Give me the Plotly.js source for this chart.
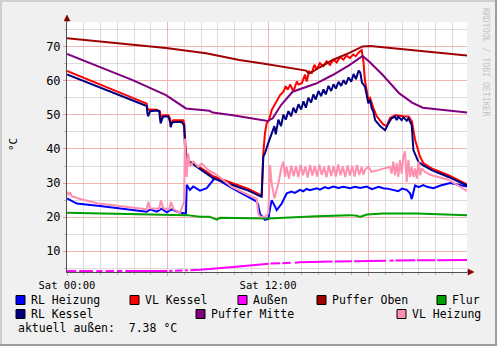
<!DOCTYPE html>
<html><head><meta charset="utf-8">
<script src="https://cdn.plot.ly/plotly-3.0.1.min.js"></script>
<style>html,body{margin:0;padding:0;background:#F0F0F0;}#chart{width:497px;height:346px;}</style>
</head><body><div id="chart"></div>
<script>
// ---- data (time in hours since Sat 00:00, values in °C) ----
const seriesNames  = ["RL Heizung","VL Kessel","Außen","Puffer Oben","Flur","RL Kessel","Puffer Mitte","VL Heizung"];
const seriesColors = ["#0000FF","#FF0000","#FF00FF","#A00000","#00A000","#000080","#800080","#FF8FAF"];
const xTickVals = [0, 6, 12, 18];
const xTickText = ["Sat 00:00", "", "Sat 12:00", ""];
const yTickVals = [10, 20, 30, 40, 50, 60, 70];
const currentOutside = 7.38;

const rlHeizung = [[0,25.5],[0.3,24.6],[0.58,24.0],[1.97,23.3],[4.76,21.6],[4.96,22.3],[5.36,21.6],[5.65,22.5],[5.95,21.4],[6.25,22.3],[6.75,21.3],[7.10,21.1],[7.15,29.5],[7.34,28.0],[7.54,29.0],[7.94,27.8],[8.34,28.5],[8.73,30.9],[8.84,31.5],[9.83,28.6],[10.83,26.0],[11.33,24.6],[11.42,23.5],[11.52,21.0],[11.82,19.2],[12.02,19.5],[12.12,22.5],[12.22,25.0],[12.42,23.1],[12.52,22.1],[12.82,24.0],[13.12,27.0],[13.4,27.5],[13.6,27.1],[13.91,28.0],[14.1,27.6],[14.3,28.3],[14.5,27.9],[14.91,28.5],[15.1,28.1],[15.4,28.8],[15.6,28.4],[15.9,29.0],[16.2,28.6],[16.5,28.9],[16.9,28.5],[17.2,28.9],[17.5,28.6],[17.89,29.0],[18.2,28.2],[18.6,28.9],[18.88,28.5],[19.2,28.3],[19.48,28.0],[19.78,27.6],[20.0,28.4],[20.28,28.0],[20.48,27.0],[20.58,25.3],[20.78,29.3],[21.0,28.8],[21.27,29.4],[21.5,28.9],[21.87,28.5],[22.3,29.3],[22.87,30.0],[23.3,29.6],[23.88,29.0]];

const vlKessel = [[0,62.9],[4.76,53.3],[4.82,51.5],[4.96,51.6],[5.36,51.5],[5.55,51.0],[5.61,49.1],[5.75,49.9],[6.05,49.9],[6.15,49.0],[6.21,47.5],[6.35,48.4],[6.94,48.4],[7.0,47.6],[7.04,44.0],[7.1,38.5],[7.24,36.6],[7.94,34.6],[8.73,32.0],[9.83,30.0],[10.83,28.3],[11.52,26.6],[11.62,26.5],[11.72,38.8],[11.82,44.7],[11.92,47.5],[12.06,48.5],[12.22,51.4],[12.42,53.0],[12.72,55.8],[12.92,56.8],[13.06,58.4],[13.18,57.4],[13.32,58.9],[13.52,56.9],[13.72,59.8],[13.82,58.9],[14.02,59.3],[14.21,61.8],[14.31,59.8],[14.45,62.8],[14.61,62.3],[14.77,64.7],[14.91,63.3],[15.10,65.2],[15.30,64.3],[15.50,65.7],[15.70,64.7],[15.90,66.2],[16.10,65.4],[16.30,67.0],[16.50,66.2],[16.69,67.4],[16.89,66.7],[17.09,67.7],[17.23,67.2],[17.43,68.4],[17.59,69.0],[17.69,66.0],[17.79,60.0],[17.99,54.5],[18.09,55.0],[18.29,52.0],[18.49,49.6],[18.88,47.2],[19.09,46.7],[19.28,49.1],[19.6,49.9],[20.08,49.6],[20.4,49.5],[20.59,48.1],[20.78,42.7],[21.07,37.8],[21.27,35.9],[21.77,34.3],[22.77,32.3],[23.88,29.6]];

const aussen = [[0,4.2],[0.55,4.2],[0.63,null],[0.72,4.2],[1.55,4.2],[1.64,null],[1.75,4.2],[2.12,4.2],[2.21,null],[2.3,4.2],[2.8,4.2],[2.87,null],[2.97,4.2],[3.3,4.2],[3.37,null],[3.48,4.2],[5.98,4.2],[6.03,null],[6.1,4.25],[6.3,4.25],[6.36,null],[6.45,4.3],[6.9,4.35],[6.96,null],[7.05,4.4],[7.22,4.4],[7.28,null],[7.36,4.45],[7.94,4.6],[9.93,5.4],[10.93,5.9],[11.92,6.3],[12.04,6.35],[12.09,null],[12.15,6.4],[12.72,6.5],[12.78,null],[12.85,6.5],[13.36,6.6],[13.46,null],[13.6,6.65],[13.91,6.8],[15.85,7.0],[15.91,null],[15.98,7.0],[16.9,7.1],[17.02,7.1],[17.07,null],[17.14,7.1],[19.05,7.25],[19.1,null],[19.25,7.25],[19.5,7.3],[19.55,null],[19.6,7.3],[19.88,7.3],[20.8,7.35],[20.84,null],[20.9,7.35],[21.98,7.4],[22.03,null],[22.1,7.4],[23.88,7.45]];

const pufferOben = [[0,72.5],[5.91,69.6],[8.3,68.1],[10.29,66.1],[11.88,64.9],[14.27,63.0],[14.43,62.2],[14.6,62.5],[15.06,63.9],[15.86,66.1],[16.86,68.2],[17.65,70.1],[18.1,70.2],[23.88,67.4]];

const flur = [[0,21.3],[7.15,20.6],[7.94,20.1],[8.5,20.1],[8.84,19.5],[8.94,19.3],[9.13,19.8],[10.93,19.6],[12.02,19.6],[14.91,20.3],[16.9,20.6],[17.3,20.4],[17.49,20.1],[17.9,20.8],[18.88,21.1],[20.88,21.1],[23.88,20.6]];

const rlKessel = [[0,61.9],[4.76,52.6],[4.8,50.5],[4.85,49.6],[4.96,51.1],[5.36,51.3],[5.5,51.1],[5.59,47.5],[5.68,48.8],[5.75,49.5],[6.05,49.5],[6.15,48.0],[6.19,46.4],[6.25,47.5],[6.35,47.9],[6.85,47.9],[6.94,47.2],[6.99,47.0],[7.04,41.0],[7.14,38.0],[7.24,36.5],[7.84,34.5],[8.73,31.4],[9.83,29.5],[10.83,27.8],[11.52,26.2],[11.62,26.0],[11.72,37.8],[11.82,38.8],[12.02,41.8],[12.22,44.7],[12.38,46.7],[12.46,44.3],[12.62,48.6],[12.78,46.7],[12.92,50.1],[13.06,48.6],[13.22,51.1],[13.38,49.6],[13.52,52.1],[13.66,50.6],[13.82,53.1],[13.98,51.6],[14.12,54.0],[14.26,52.1],[14.41,55.0],[14.57,53.6],[14.71,56.0],[14.85,54.5],[15.01,57.0],[15.17,55.5],[15.31,57.5],[15.45,56.0],[15.61,58.5],[15.77,57.0],[15.91,59.0],[16.05,57.7],[16.21,59.7],[16.37,58.5],[16.51,60.2],[16.65,59.0],[16.81,61.0],[16.97,59.7],[17.11,62.0],[17.25,60.5],[17.41,63.0],[17.51,62.4],[17.61,59.5],[17.79,58.3],[17.99,53.4],[18.09,54.4],[18.19,52.0],[18.29,51.0],[18.39,48.5],[18.69,46.7],[18.99,45.5],[19.19,47.5],[19.38,49.0],[19.58,49.5],[19.68,48.5],[19.78,49.5],[19.98,48.5],[20.08,49.3],[20.28,48.3],[20.38,49.0],[20.58,47.0],[20.68,39.7],[20.78,38.7],[20.98,36.2],[21.27,35.2],[21.77,33.8],[22.77,31.8],[23.76,29.6],[23.88,29.3]];

const pufferMitte = [[0,67.9],[1.93,64.1],[3.92,60.2],[5.91,55.8],[6.6,53.5],[7.1,51.9],[8.5,51.2],[8.7,50.7],[9.89,49.9],[11.98,48.2],[12.28,49.0],[12.78,52.9],[13.47,56.8],[14.87,59.2],[15.86,61.7],[16.86,64.6],[17.65,67.3],[18.05,65.6],[18.85,61.7],[19.84,56.3],[20.6,53.6],[21.24,52.1],[23.88,50.7]];

const vlHeizung = [[0,27.5],[0.1,26.5],[0.18,27.3],[0.3,26.0],[0.45,26.0],[0.67,25.5],[1.87,24.0],[3.0,23.3],[4.76,22.3],[4.85,24.5],[4.96,22.6],[5.5,22.5],[5.61,25.0],[5.75,22.6],[6.1,22.3],[6.21,24.5],[6.35,22.4],[6.75,21.3],[6.99,24.5],[7.04,43.1],[7.14,31.8],[7.24,38.7],[7.34,34.8],[7.54,36.3],[7.84,34.8],[8.04,35.8],[8.44,33.8],[8.84,32.8],[9.83,28.9],[10.83,26.5],[11.32,25.5],[11.42,21.1],[11.52,20.2],[11.82,20.1],[12.02,21.1],[12.12,35.3],[12.22,29.9],[12.38,25.5],[12.62,29.9],[12.81,34.8],[12.92,36.3],[13.01,31.8],[13.11,34.8],[13.25,31.3],[13.39,35.2],[13.53,32.0],[13.67,35.0],[13.81,31.8],[13.95,35.4],[14.09,32.3],[14.23,34.9],[14.37,31.6],[14.51,35.3],[14.65,32.2],[14.79,35.0],[14.93,31.9],[15.07,35.4],[15.21,32.4],[15.35,34.8],[15.49,31.7],[15.63,35.2],[15.77,32.1],[15.91,35.0],[16.05,31.9],[16.19,35.5],[16.33,32.3],[16.47,34.9],[16.61,31.8],[16.75,35.2],[16.89,32.2],[17.03,35.0],[17.17,31.9],[17.31,35.3],[17.45,32.4],[17.59,34.8],[17.69,32.5],[17.79,33.8],[17.99,34.8],[18.19,33.3],[18.59,33.8],[18.99,34.3],[19.28,34.8],[19.38,32.8],[19.48,36.3],[19.58,32.3],[19.68,35.8],[19.78,31.8],[19.88,36.8],[19.98,32.8],[20.08,37.8],[20.18,39.3],[20.28,30.3],[20.38,36.8],[20.48,31.8],[20.58,34.8],[20.68,31.8],[20.78,34.3],[20.88,31.3],[20.98,36.3],[21.08,32.3],[21.18,34.3],[21.37,33.3],[21.57,32.8],[21.77,32.3],[22.77,31.0],[23.76,28.1],[23.88,27.7]];

const seriesData = [rlHeizung, vlKessel, aussen, pufferOben, flur, rlKessel, pufferMitte, vlHeizung];

// ---- geometry helpers (layout only) ----
const L = 67, R = 467, T = 22, B = 272;
const px = x => (x - L) / (R - L);
const py = y => (B - y) / (B - T);
const MONO = "DejaVu Sans Mono";

const traces = seriesData.map((d, i) => ({
  type: "scatter", mode: "lines", name: seriesNames[i],
  x: d.map(p => p[0]), y: d.map(p => p[1]),
  line: {color: seriesColors[i], width: 2},
  connectgaps: false, hoverinfo: "skip"
}));

// legend layout: [series index, square x, row y]
const legendPos = [[0,16,300],[1,130,300],[2,238,300],[3,317,300],[4,437,300],[5,16,314],[6,196,314],[7,397,314]];
const shapes = [];
const annotations = [];
legendPos.forEach(([i, x, y]) => {
  shapes.push({type:"rect", xref:"paper", yref:"paper", x0:px(x), x1:px(x+9), y0:py(y+4.5), y1:py(y-4.5),
    fillcolor: seriesColors[i], line:{color:"#000", width:1}});
  annotations.push({xref:"paper", yref:"paper", x:px(x+13), y:py(y), xanchor:"left", yanchor:"middle",
    text: seriesNames[i], showarrow:false, font:{family:MONO, size:11.5, color:"#000"}});
});
annotations.push({xref:"paper", yref:"paper", x:px(16), y:py(328), xanchor:"left", yanchor:"middle",
  text: "aktuell außen:\u00a0 " + currentOutside.toFixed(2) + " °C", showarrow:false, font:{family:MONO, size:11.5, color:"#000"}});
// y unit title
annotations.push({xref:"paper", yref:"paper", x:px(13), y:py(145), xanchor:"center", yanchor:"middle", textangle:-90,
  text:"°C", showarrow:false, font:{family:MONO, size:11, color:"#000"}});
// watermark
annotations.push({xref:"paper", yref:"paper", x:px(486), y:py(62), xanchor:"center", yanchor:"middle", textangle:90,
  text:"RRDTOOL / TOBI OETIKER", showarrow:false, font:{family:MONO, size:8.2, color:"#C4C4C4"}});

// axis extensions and arrows
shapes.push({type:"line", xref:"paper", yref:"paper", x0:px(67), x1:px(67), y0:py(22), y1:py(19), line:{color:"#505050", width:1}});
shapes.push({type:"line", xref:"paper", yref:"paper", x0:px(467), x1:px(469), y0:py(272), y1:py(272), line:{color:"#505050", width:1}});
shapes.push({type:"path", xref:"paper", yref:"paper", path:`M ${px(67)} ${py(15)} L ${px(64)} ${py(21)} L ${px(70)} ${py(21)} Z`, fillcolor:"#7F0000", line:{color:"#7F0000", width:0.5}});
shapes.push({type:"path", xref:"paper", yref:"paper", path:`M ${px(474)} ${py(272)} L ${px(468)} ${py(269)} L ${px(468)} ${py(275)} Z`, fillcolor:"#7F0000", line:{color:"#7F0000", width:0.5}});
// outer frame shading
shapes.push({type:"line", xref:"paper", yref:"paper", x0:px(0), x1:px(497), y0:py(1), y1:py(1), line:{color:"#CFCFCF", width:2}});
shapes.push({type:"line", xref:"paper", yref:"paper", x0:px(1), x1:px(1), y0:py(0), y1:py(346), line:{color:"#CFCFCF", width:2}});
shapes.push({type:"line", xref:"paper", yref:"paper", x0:px(496), x1:px(496), y0:py(0), y1:py(346), line:{color:"#9E9E9E", width:2}});
shapes.push({type:"line", xref:"paper", yref:"paper", x0:px(0), x1:px(497), y0:py(345), y1:py(345), line:{color:"#9E9E9E", width:2}});

const layout = {
  width: 497, height: 346,
  margin: {l: L, r: 497 - R, t: T, b: 346 - B, pad: 0},
  paper_bgcolor: "#F0F0F0", plot_bgcolor: "#FFFFFF",
  showlegend: false,
  font: {family: MONO, size: 10, color: "#000"},
  xaxis: {
    range: [0, 23.88], tickmode: "array", tickvals: xTickVals, ticktext: xTickText,
    showgrid: true, gridcolor: "#F4B4B4", gridwidth: 1,
    ticks: "outside", ticklen: 3, tickcolor: "#E8A0A0",
    showline: true, linecolor: "#505050", linewidth: 1, zeroline: false,
    tickfont: {family: MONO, size: 10.5, color: "#000"},
    minor: {tickmode: "linear", tick0: 0, dtick: 1, showgrid: true, gridcolor: "#DCDCDC", gridwidth: 1, ticks: "outside", ticklen: 2, tickcolor: "#BBBBBB"},
    fixedrange: true
  },
  yaxis: {
    range: [3.92, 77.25], tickmode: "array", tickvals: yTickVals,
    showgrid: true, gridcolor: "#F4B4B4", gridwidth: 1,
    ticks: "outside", ticklen: 3, tickcolor: "#E8A0A0",
    showline: true, linecolor: "#505050", linewidth: 1, zeroline: false,
    tickfont: {family: MONO, size: 12, color: "#000"},
    minor: {tickmode: "linear", tick0: 0, dtick: 5, showgrid: true, gridcolor: "#DCDCDC", gridwidth: 1, ticks: "outside", ticklen: 2, tickcolor: "#BBBBBB"},
    fixedrange: true
  },
  shapes: shapes,
  annotations: annotations
};

Plotly.newPlot("chart", traces, layout, {staticPlot: true, displayModeBar: false});
</script>
</body></html>
